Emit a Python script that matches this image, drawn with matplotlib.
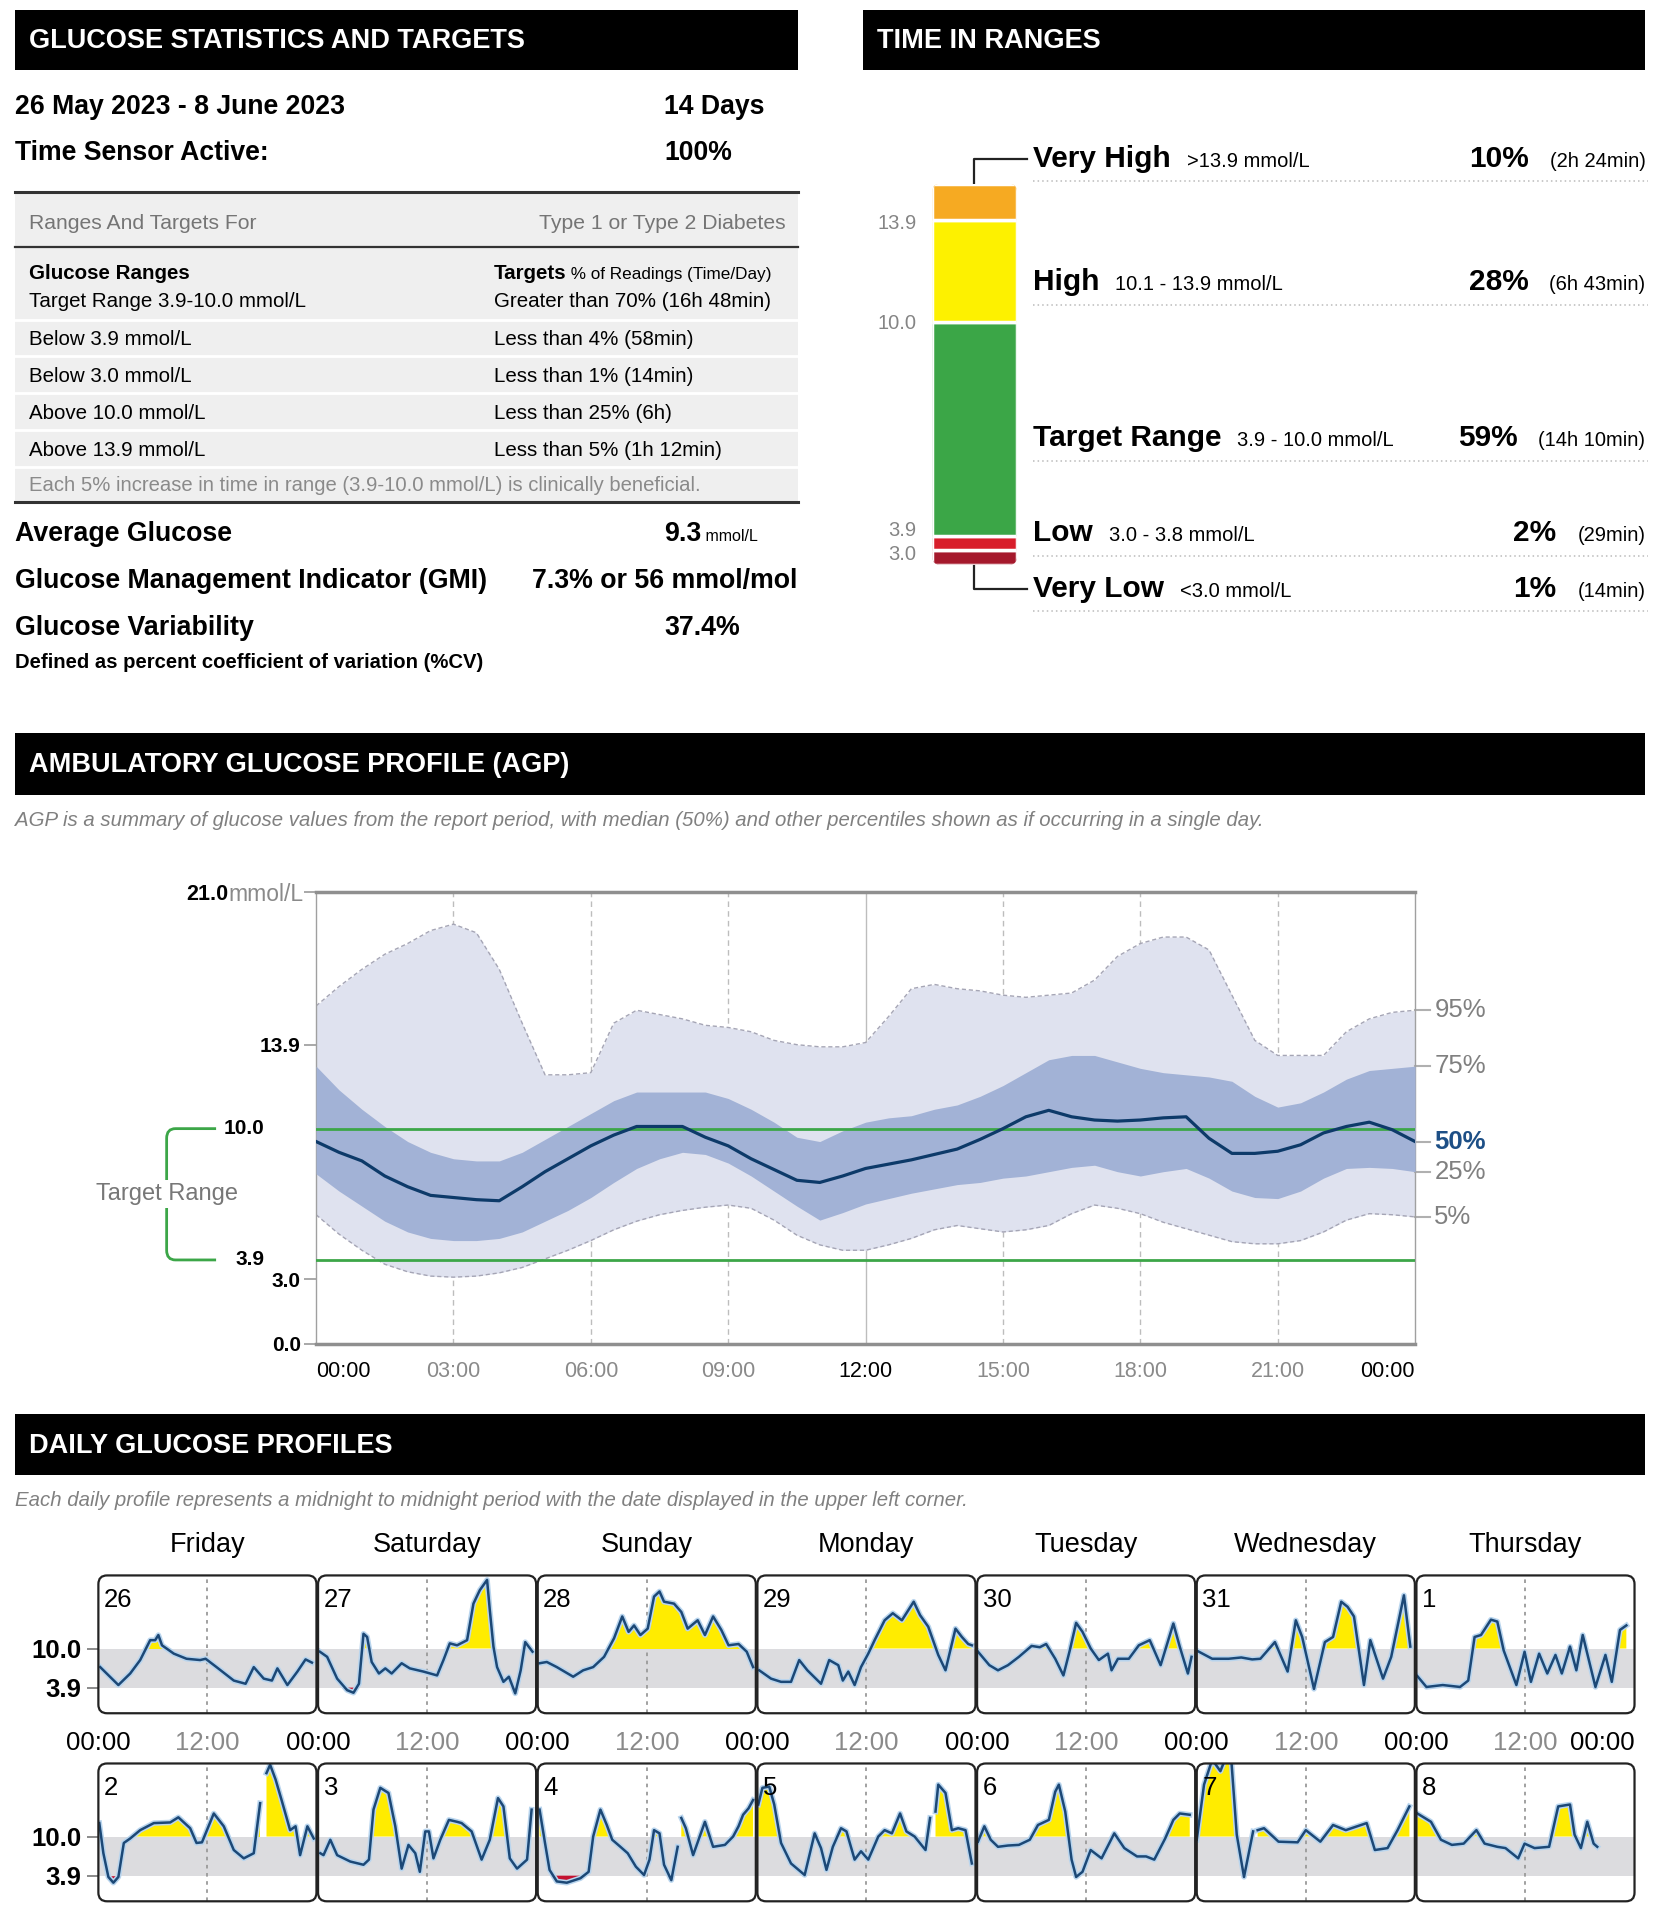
import numpy as np
import matplotlib
matplotlib.use('Agg')
import matplotlib.pyplot as plt
import matplotlib.patheffects as pe
from matplotlib.patches import Rectangle, FancyBboxPatch, PathPatch
from matplotlib.path import Path

plt.rcParams['font.family'] = ['Liberation Sans', 'DejaVu Sans']

# ---------------- data ----------------
tir_names = ['Very High', 'High', 'Target Range', 'Low', 'Very Low']
tir_ranges = ['>13.9 mmol/L', '10.1 - 13.9 mmol/L', '3.9 - 10.0 mmol/L', '3.0 - 3.8 mmol/L', '<3.0 mmol/L']
tir_pct = [10, 28, 59, 2, 1]
tir_time = ['(2h 24min)', '(6h 43min)', '(14h 10min)', '(29min)', '(14min)']
tir_colors = ['#f6aa22', '#fdf100', '#3ba647', '#d81d2a', '#a5192c']
tir_bounds = ['13.9', '10.0', '3.9', '3.0']

target_rows = [('Below 3.9 mmol/L', 'Less than 4% (58min)'),
               ('Below 3.0 mmol/L', 'Less than 1% (14min)'),
               ('Above 10.0 mmol/L', 'Less than 25% (6h)'),
               ('Above 13.9 mmol/L', 'Less than 5% (1h 12min)')]

agp_hours = [i / 2 for i in range(49)]
p95 = [15.7, 16.6, 17.4, 18.1, 18.6, 19.2, 19.5, 19.1, 17.4, 14.9, 12.5, 12.5, 12.6, 14.9, 15.5, 15.3, 15.1,
       14.8, 14.7, 14.5, 14.1, 13.9, 13.8, 13.8, 14.0, 15.2, 16.5, 16.7, 16.5, 16.4, 16.2, 16.1, 16.2, 16.3,
       16.9, 18.0, 18.6, 18.9, 18.9, 18.3, 16.2, 14.1, 13.4, 13.4, 13.4, 14.5, 15.1, 15.4, 15.5]
p75 = [12.9, 11.8, 10.9, 10.1, 9.4, 8.9, 8.6, 8.5, 8.5, 8.9, 9.5, 10.1, 10.7, 11.3, 11.7, 11.7, 11.7, 11.7,
       11.4, 10.9, 10.3, 9.6, 9.4, 9.9, 10.3, 10.5, 10.6, 10.9, 11.1, 11.5, 12.0, 12.6, 13.2, 13.4, 13.4,
       13.1, 12.8, 12.6, 12.5, 12.4, 12.2, 11.5, 11.0, 11.2, 11.7, 12.3, 12.7, 12.8, 12.9]
p50 = [9.4, 8.9, 8.5, 7.8, 7.3, 6.9, 6.8, 6.7, 6.65, 7.3, 8.0, 8.6, 9.2, 9.7, 10.1, 10.1, 10.1, 9.6, 9.2,
       8.6, 8.1, 7.6, 7.5, 7.8, 8.15, 8.35, 8.55, 8.8, 9.05, 9.5, 10.0, 10.55, 10.85, 10.55, 10.4, 10.35,
       10.4, 10.5, 10.55, 9.55, 8.85, 8.85, 8.95, 9.25, 9.8, 10.1, 10.3, 9.95, 9.4]
p25 = [7.9, 7.1, 6.4, 5.7, 5.2, 4.9, 4.8, 4.8, 4.9, 5.2, 5.7, 6.2, 6.8, 7.5, 8.15, 8.6, 8.9, 8.8, 8.4, 7.8,
       7.1, 6.4, 5.75, 6.1, 6.5, 6.75, 7.0, 7.2, 7.4, 7.5, 7.7, 7.8, 8.0, 8.2, 8.3, 8.0, 7.8, 8.0, 8.15,
       7.7, 7.1, 6.8, 6.75, 7.1, 7.7, 8.15, 8.2, 8.15, 8.0]
p05 = [6.0, 5.1, 4.35, 3.7, 3.35, 3.15, 3.1, 3.15, 3.3, 3.55, 3.95, 4.35, 4.8, 5.3, 5.7, 6.0, 6.2, 6.35,
       6.45, 6.3, 5.75, 5.05, 4.6, 4.35, 4.35, 4.6, 4.9, 5.3, 5.5, 5.35, 5.2, 5.3, 5.5, 6.05, 6.45, 6.3,
       6.05, 5.65, 5.35, 5.05, 4.75, 4.65, 4.65, 4.8, 5.2, 5.75, 6.05, 6.0, 5.9]
target_low, target_high = 3.9, 10.0

weekdays = ['Friday', 'Saturday', 'Sunday', 'Monday', 'Tuesday', 'Wednesday', 'Thursday']
dates_row1 = ['26', '27', '28', '29', '30', '31', '1']
dates_row2 = ['2', '3', '4', '5', '6', '7', '8']

# daily traces: hour of day, glucose mmol/L (None = sensor gap)
d26_h = [0.2, 2.2, 3.5, 4.6, 5.7, 6.25, 6.6, 7.0, 8.3, 9.7, 11.2, 11.8, 13.0, 14.9, 16.2, 17.1, 18.2, 19.1, 19.7, 20.8, 21.9, 22.8, 23.5]
d26_g = [7.1, 4.3, 6.1, 8.2, 11.3, 11.3, 12.1, 10.5, 9.2, 8.4, 8.2, 8.4, 7.1, 5.0, 4.5, 7.1, 5.3, 5.0, 6.9, 4.3, 6.4, 8.3, 7.8]
d27_h = [0.2, 1.0, 2.1, 3.2, 3.9, 4.5, 5.0, 5.4, 5.9, 6.7, 7.4, 8.1, 9.2, 10.1, 11.6, 13.1, 13.8, 14.5, 15.3, 16.4, 17.1, 17.8, 18.6, 18.9, 19.3, 19.7, 20.4, 21.0, 21.7, 22.3, 22.8, 23.6]
d27_g = [9.5, 8.7, 5.3, 3.5, 3.1, 4.5, 12.3, 11.8, 7.9, 6.1, 6.9, 6.1, 7.7, 6.9, 6.4, 5.8, 8.2, 10.8, 10.5, 11.3, 17.0, 19.1, 20.7, 16.0, 10.3, 7.1, 4.8, 5.6, 3.0, 6.6, 11.0, 9.5]
d28_h = [0.2, 1.0, 2.1, 3.9, 5.0, 6.1, 7.3, 8.4, 9.3, 10.0, 10.6, 11.3, 12.1, 12.8, 13.4, 13.9, 15.0, 15.8, 16.5, 17.6, 18.4, 19.3, 20.2, 21.0, 22.1, 23.0, 23.7]
d28_g = [7.7, 7.9, 7.1, 5.6, 6.6, 7.1, 8.7, 11.6, 15.0, 12.6, 13.6, 12.1, 13.1, 18.1, 18.9, 17.3, 17.0, 15.7, 13.1, 14.4, 12.1, 15.0, 12.9, 10.5, 10.7, 9.5, 7.1]
d29_h = [0.2, 1.5, 2.6, 3.7, 4.6, 5.5, 7.0, 7.9, 8.9, 9.4, 10.0, 10.7, 11.4, 12.2, 12.9, 14.0, 14.9, 15.9, 17.2, 17.9, 18.8, 19.9, 20.7, 21.8, 22.5, 23.2, 23.6]
d29_g = [6.6, 5.3, 4.8, 4.8, 8.2, 6.6, 4.5, 8.2, 7.4, 5.0, 6.4, 4.3, 7.1, 9.2, 11.3, 14.4, 15.5, 14.4, 17.3, 15.2, 13.4, 9.0, 6.6, 13.1, 11.8, 10.7, 10.5]
d30_h = [0.1, 1.35, 2.3, 3.4, 4.6, 6.0, 6.9, 7.6, 8.6, 9.5, 10.2, 10.9, 11.6, 12.5, 13.4, 14.4, 14.8, 15.5, 16.7, 17.8, 19.0, 20.2, 21.6, 22.3, 23.2, 23.6]
d30_g = [9.5, 7.4, 6.6, 7.4, 8.7, 10.4, 10.2, 10.7, 8.4, 5.8, 9.7, 14.0, 12.6, 10.0, 8.2, 9.2, 6.6, 8.4, 8.4, 10.5, 11.3, 7.4, 13.9, 10.3, 6.1, 8.7]
d31_h = [0.1, 1.7, 3.5, 4.9, 6.1, 7.0, 8.6, 10.0, 10.9, 11.6, 12.9, 14.1, 15.0, 15.9, 16.6, 17.3, 18.4, 19.1, 20.5, 21.4, 22.8, 23.5]
d31_g = [9.6, 8.4, 8.4, 8.6, 8.3, 8.4, 11.0, 6.4, 14.4, 11.8, 3.7, 11.0, 11.8, 17.3, 16.5, 15.0, 4.3, 11.3, 5.3, 8.7, 18.3, 10.3]
d01_h = [0.1, 1.1, 2.9, 4.8, 5.7, 6.4, 7.1, 8.2, 8.9, 9.6, 11.0, 11.9, 12.6, 13.5, 14.4, 15.3, 16.0, 16.9, 17.6, 18.3, 19.7, 20.8, 21.5, 22.4, 23.1]
d01_g = [5.7, 4.0, 4.3, 4.0, 5.0, 11.8, 12.1, 14.5, 14.2, 9.7, 4.3, 9.5, 4.8, 9.2, 6.1, 9.0, 6.1, 10.3, 6.6, 12.1, 4.0, 9.0, 4.8, 12.9, 13.6]
d02_h = [0.1, 0.55, 1.1, 1.65, 2.2, 2.8, 3.5, 4.6, 6.1, 7.9, 8.8, 10.1, 10.8, 11.4, 12.7, 13.8, 14.9, 16.0, 17.1, 17.8, 18.1, 18.5, 18.9, 19.5, 20.2, 21.1, 21.7, 22.2, 23.0, 23.7]
d02_g = [12.1, 7.4, 3.7, 2.8, 3.7, 9.0, 9.7, 11.0, 12.1, 12.2, 13.0, 11.3, 9.0, 9.1, 13.6, 11.6, 7.9, 6.6, 7.4, 15.2, None, 19.9, 21.2, 18.9, 15.5, 11.0, 11.6, 7.1, 11.6, 9.7]
d03_h = [0.25, 0.6, 1.35, 2.1, 3.55, 5.0, 5.6, 6.1, 6.85, 7.75, 8.5, 9.2, 9.95, 10.7, 11.2, 11.8, 12.2, 12.7, 13.45, 14.4, 15.3, 15.8, 16.9, 18.0, 18.9, 19.8, 20.4, 21.1, 21.9, 23.0, 23.5]
d03_g = [7.4, 7.1, 9.5, 7.1, 6.1, 5.6, 6.4, 14.2, 17.6, 16.8, 11.6, 5.0, 8.7, 7.4, 4.5, 10.8, 10.8, 6.6, 9.5, 12.6, 12.3, 12.1, 10.8, 6.4, 9.5, 16.0, 14.7, 6.6, 5.0, 6.4, 14.2]
d04_h = [0.2, 0.8, 1.3, 2.1, 3.2, 4.7, 5.6, 6.1, 6.9, 7.6, 8.2, 9.1, 9.9, 10.8, 11.7, 12.3, 12.8, 13.4, 13.9, 14.7, 15.4, 15.6, 15.8, 16.3, 17.1, 18.4, 19.3, 20.6, 21.5, 22.1, 22.6, 23.2, 23.7]
d04_g = [14.2, 9.0, 4.8, 3.0, 2.8, 3.5, 4.5, 10.0, 14.2, 11.8, 9.5, 8.4, 7.4, 5.3, 4.0, 6.4, 11.0, 10.5, 5.6, 3.2, 8.4, None, 12.9, 11.3, 7.1, 12.3, 8.4, 8.7, 10.0, 11.6, 13.4, 14.4, 15.7]
d05_h = [0.1, 0.55, 1.3, 1.85, 2.6, 3.7, 5.2, 6.3, 7.0, 7.6, 8.3, 9.2, 9.8, 10.7, 11.4, 12.2, 13.3, 14.0, 14.8, 15.7, 16.4, 17.3, 18.5, 19.0, 19.3, 19.6, 19.9, 20.7, 21.4, 22.1, 22.9, 23.6]
d05_g = [15.0, 17.6, 17.8, 15.0, 9.0, 5.8, 4.0, 10.5, 8.2, 4.8, 8.4, 11.3, 10.8, 6.4, 7.7, 6.4, 10.0, 11.0, 10.5, 13.6, 10.8, 10.0, 7.9, 12.9, None, 13.9, 18.1, 16.8, 11.0, 11.3, 11.0, 5.8]
d06_h = [0.1, 0.8, 1.5, 2.3, 3.4, 4.6, 5.8, 6.7, 7.9, 8.6, 9.0, 9.7, 10.4, 10.9, 11.6, 12.5, 13.7, 15.1, 16.2, 17.6, 18.6, 19.5, 20.7, 21.6, 22.3, 23.4]
d06_g = [9.2, 11.6, 9.5, 8.4, 8.6, 8.7, 9.5, 11.8, 12.6, 17.0, 18.1, 13.9, 6.4, 3.7, 4.5, 7.9, 6.6, 10.5, 8.2, 6.9, 6.9, 6.4, 9.7, 12.6, 13.6, 13.4]
d07_h = [0.0, 0.8, 1.7, 2.6, 3.1, 3.8, 4.4, 5.2, 6.2, 6.4, 6.7, 7.4, 9.0, 11.1, 12.0, 13.6, 15.0, 16.4, 18.7, 19.6, 21.0, 22.1, 23.4]
d07_g = [9.5, 18.1, 22.0, 20.2, 22.0, 22.0, 10.3, 3.7, 10.8, None, 11.0, 11.3, 9.2, 9.1, 11.0, 9.2, 11.8, 11.0, 12.1, 7.9, 8.2, 11.0, 14.7]
d08_h = [0.1, 1.6, 2.7, 3.9, 5.2, 6.6, 7.5, 8.9, 9.8, 11.2, 11.9, 13.0, 14.6, 15.6, 16.9, 17.4, 18.1, 18.8, 19.5, 19.9]
d08_g = [13.6, 12.3, 9.5, 8.7, 8.9, 11.0, 8.9, 8.4, 8.2, 6.6, 8.9, 8.2, 8.4, 14.7, 15.0, 10.3, 8.2, 12.3, 8.9, 8.4]

row1_traces = [(d26_h, d26_g), (d27_h, d27_g), (d28_h, d28_g), (d29_h, d29_g),
               (d30_h, d30_g), (d31_h, d31_g), (d01_h, d01_g)]
row2_traces = [(d02_h, d02_g), (d03_h, d03_g), (d04_h, d04_g), (d05_h, d05_g),
               (d06_h, d06_g), (d07_h, d07_g), (d08_h, d08_g)]

# ---------------- page ----------------
W, H = 1350.0, 1564.0
fig = plt.figure(figsize=(16.54, 19.16), dpi=100)
bg = fig.add_axes([0, 0, 1, 1])
bg.set_xlim(0, W)
bg.set_ylim(H, 0)
bg.axis('off')

GRAY = '#757575'
TXT = 14.8   # table text size


def box(x0, y0, x1, y1):
    return [x0 / W, 1 - y1 / H, (x1 - x0) / W, (y1 - y0) / H]


def header(x0, x1, y0, y1, title):
    bg.add_patch(Rectangle((x0, y0), x1 - x0, y1 - y0, color='black', lw=0))
    bg.text(x0 + 12, (y0 + y1) / 2 + 1, title, color='white', fontsize=19.5, fontweight='bold', va='center')


def tail(t, s, size, y, color='black', dx=0, weight='normal'):
    # small text continuing right after another text, on the same baseline
    return bg.annotate(s, xy=(1, y), xycoords=(t, 'data'), xytext=(dx, 0), textcoords='offset pixels',
                       fontsize=size, color=color, va='baseline', fontweight=weight)


# ---- glucose statistics ----
header(12, 651, 8, 57, 'GLUCOSE STATISTICS AND TARGETS')
bg.text(12, 93, '26 May 2023 - 8 June 2023', fontsize=19.2, fontweight='bold', va='baseline')
bg.text(542, 93, '14 Days', fontsize=19.2, fontweight='bold', va='baseline')
bg.text(12, 131, 'Time Sensor Active:', fontsize=19.2, fontweight='bold', va='baseline')
bg.text(542, 131, '100%', fontsize=19.2, fontweight='bold', va='baseline')

bg.add_patch(Rectangle((12, 157), 639, 253, color='#efefef', lw=0))
for yy, lw in [(157, 2.2), (202, 1.6), (410, 2.2)]:
    bg.plot([12, 651], [yy, yy], color='#333333', lw=lw)
for yy in [261, 291, 321, 351, 381]:
    bg.plot([12, 651], [yy, yy], color='white', lw=2)
bg.text(24, 187, 'Ranges And Targets For', fontsize=15.2, color=GRAY, va='baseline')
bg.text(641, 187, 'Type 1 or Type 2 Diabetes', fontsize=15.2, color=GRAY, va='baseline', ha='right')
bg.text(24, 228, 'Glucose Ranges', fontsize=TXT, fontweight='bold', va='baseline')
t = bg.text(403, 228, 'Targets', fontsize=TXT, fontweight='bold', va='baseline')
tail(t, ' % of Readings (Time/Day)', 12.3, 228)
bg.text(24, 251, 'Target Range 3.9-10.0 mmol/L', fontsize=TXT, va='baseline')
bg.text(403, 251, 'Greater than 70% (16h 48min)', fontsize=TXT, va='baseline')
for i, (left, right) in enumerate(target_rows):
    yb = 282 + 30 * i
    bg.text(24, yb, left, fontsize=TXT, va='baseline')
    bg.text(403, yb, right, fontsize=TXT, va='baseline')
bg.text(24, 401, 'Each 5% increase in time in range (3.9-10.0 mmol/L) is clinically beneficial.',
        fontsize=14.6, color='#8a8a8a', va='baseline')

bg.text(12, 442, 'Average Glucose', fontsize=19.3, fontweight='bold', va='baseline')
t = bg.text(542, 442, '9.3', fontsize=19.3, fontweight='bold', va='baseline')
tail(t, ' mmol/L', 11.5, 442)
bg.text(12, 480, 'Glucose Management Indicator (GMI)', fontsize=19.3, fontweight='bold', va='baseline')
bg.text(651, 480, '7.3% or 56 mmol/mol', fontsize=19.3, fontweight='bold', va='baseline', ha='right')
bg.text(12, 518, 'Glucose Variability', fontsize=19.3, fontweight='bold', va='baseline')
bg.text(542, 518, '37.4%', fontsize=19.3, fontweight='bold', va='baseline')
bg.text(12, 545, 'Defined as percent coefficient of variation (%CV)', fontsize=14.6, fontweight='bold',
        va='baseline')

# ---- time in ranges ----
header(704, 1343, 8, 57, 'TIME IN RANGES')
seg = [max(p, 4) for p in tir_pct][::-1]      # drawn bottom (very low) to top (very high)
seg_colors = tir_colors[::-1]
tax = fig.add_axes(box(761, 150, 830, 461))
bottoms = np.concatenate([[0], np.cumsum(seg)[:-1]])
bars = tax.bar(0, seg, bottom=bottoms, width=1, color=seg_colors, edgecolor='white', linewidth=2.5)
tax.set_xlim(-0.5, 0.5)
tax.set_ylim(0, sum(seg))
tax.axis('off')
# rounded ends of the bar
aspect = (sum(seg) / 311.0) * 69.0
clip = FancyBboxPatch((-0.5, 0), 1, sum(seg), boxstyle='round,pad=0,rounding_size=0.09',
                      mutation_aspect=aspect, transform=tax.transData, fc='none', ec='none')
tax.add_patch(clip)
for b in bars:
    b.set_clip_path(clip)
bounds = np.cumsum(seg)[:-1][::-1]
nudges = [-3, -2, 5, -4]
for b, lab, nd in zip(bounds, tir_bounds, nudges):
    tax.annotate(lab, xy=(0, b), xycoords=('axes fraction', 'data'), xytext=(-16, nd),
                 textcoords='offset pixels', ha='right', va='center', fontsize=14.5, color='#858585')

# connectors
bg.plot([795, 795, 838], [150, 130, 130], color='#222222', lw=1.6)
bg.plot([795, 795, 838], [461, 481, 481], color='#222222', lw=1.6)
row_y = [128, 229, 356, 434, 479]
for name, rng, pct, tm, yc in zip(tir_names, tir_ranges, tir_pct, tir_time, row_y):
    yb = yc + 8
    t = bg.text(843, yb, name, fontsize=21.5, fontweight='bold', va='baseline')
    tail(t, rng, 14.5, yb, dx=16)
    tt = bg.text(1343, yb, tm, fontsize=14.5, va='baseline', ha='right')
    bg.annotate(f'{pct}%', xy=(0, yb), xycoords=(tt, 'data'), xytext=(-21, 0), textcoords='offset pixels',
                ha='right', va='baseline', fontsize=21.5, fontweight='bold')
    bg.plot([843, 1345], [yc + 20, yc + 20], color='#bbbbbb', lw=1.1, ls=(0, (1, 2)))

# ---- AGP ----
header(12, 1343, 598, 649, 'AMBULATORY GLUCOSE PROFILE (AGP)')
bg.text(12, 674, 'AGP is a summary of glucose values from the report period, with median (50%) and other '
        'percentiles shown as if occurring in a single day.', fontsize=14.7, color='#808080',
        style='italic', va='baseline')

ax = fig.add_axes(box(258, 728, 1155, 1097))
ax.set_xlim(0, 24)
ax.set_ylim(0, 21)
for hh in [3, 6, 9, 15, 18, 21]:
    ax.axvline(hh, color='#bdbdbd', lw=1, ls=(0, (4, 3)), zorder=0)
ax.axvline(12, color='#bdbdbd', lw=1, zorder=0)
ax.fill_between(agp_hours, p05, p95, color='#dfe2ef', lw=0, zorder=1)
ax.plot(agp_hours, p95, color='#a5a5b5', lw=1, ls=(0, (3, 2)), zorder=2)
ax.plot(agp_hours, p05, color='#a5a5b5', lw=1, ls=(0, (3, 2)), zorder=2)
ax.fill_between(agp_hours, p25, p75, color='#a2b2d6', lw=0, zorder=3)
ax.axhline(target_high, color='#3ca648', lw=2, zorder=4)
ax.axhline(target_low, color='#3ca648', lw=2, zorder=4)
ax.plot(agp_hours, p50, color='#0d3a69', lw=2.3, zorder=5)
for s in ['top', 'bottom']:
    ax.spines[s].set_color('#8f8f8f')
    ax.spines[s].set_linewidth(2.5)
for s in ['left', 'right']:
    ax.spines[s].set_color('#a0a0a0')
    ax.spines[s].set_linewidth(1)

ax.set_yticks([0, 3.0, 13.9, 21.0])
ax.set_yticklabels(['0.0', '3.0', '13.9', ''], fontsize=15, fontweight='bold')
ax.tick_params(axis='y', length=9, color='#9a9a9a', width=1.2, pad=2)
mm = ax.annotate('mmol/L', xy=(0, 21), xycoords=('axes fraction', 'data'), xytext=(-13, 0),
                 textcoords='offset pixels', ha='right', va='center_baseline', fontsize=16.5, color='#8a8a8a')
ax.annotate('21.0', xy=(0, 21), xycoords=(mm, 'data'), ha='right', va='center_baseline',
            fontsize=15.5, fontweight='bold')
for v, lab in [(target_high, '10.0'), (target_low, '3.9')]:
    ax.text(-0.047, v, lab, transform=ax.get_yaxis_transform(), ha='right', va='center',
            fontsize=15, fontweight='bold')

# target range bracket
xl, xe, rx, ry = -0.136, -0.091, 0.008, 0.45
verts = [(xe, target_high), (xl + rx, target_high), (xl, target_high), (xl, target_high - ry),
         (xl, target_low + ry), (xl, target_low), (xl + rx, target_low), (xe, target_low)]
codes = [Path.MOVETO, Path.LINETO, Path.CURVE3, Path.CURVE3, Path.LINETO, Path.CURVE3, Path.CURVE3, Path.LINETO]
ax.add_patch(PathPatch(Path(verts, codes), transform=ax.get_yaxis_transform(), fill=False,
                       edgecolor='#3ca648', lw=2, clip_on=False))
ax.text(xl, (target_low + target_high) / 2, 'Target Range', transform=ax.get_yaxis_transform(),
        ha='center', va='center', fontsize=17, color='#777777',
        bbox=dict(facecolor='white', edgecolor='none', pad=2))

xt = list(range(0, 25, 3))
ax.set_xticks(xt)
ax.set_xticklabels(['00:00', '03:00', '06:00', '09:00', '12:00', '15:00', '18:00', '21:00', '00:00'],
                   fontsize=15.5)
ax.tick_params(axis='x', length=0, pad=12)
for lab, hh in zip(ax.get_xticklabels(), xt):
    lab.set_color('black' if hh % 12 == 0 else '#8a8a8a')
ax.get_xticklabels()[0].set_ha('left')
ax.get_xticklabels()[-1].set_ha('right')

for lab, series, col, wt in [('95%', p95, '#808080', 'normal'), ('75%', p75, '#808080', 'normal'),
                             ('50%', p50, '#1d4f86', 'bold'), ('25%', p25, '#808080', 'normal'),
                             ('5%', p05, '#808080', 'normal')]:
    ax.plot([24, 24.33], [series[-1], series[-1]], color='#b0b0b0', lw=1.5, clip_on=False)
    ax.text(24.42, series[-1], lab, fontsize=18.5, color=col, fontweight=wt, va='center')

# ---- daily profiles ----
header(12, 1343, 1154, 1204, 'DAILY GLUCOSE PROFILES')
bg.text(12, 1229, 'Each daily profile represents a midnight to midnight period with the date displayed in '
        'the upper left corner.', fontsize=14.7, color='#808080', style='italic', va='baseline')

p_left, p_w, p_step, p_h = 80.3, 178.0, 179.3, 112.5
row_tops = [1286, 1439.5]
for c, wd in enumerate(weekdays):
    bg.text(p_left + c * p_step + p_w / 2, 1261, wd, fontsize=19.5, ha='center', va='center')

for r, (traces, dates) in enumerate([(row1_traces, dates_row1), (row2_traces, dates_row2)]):
    for c, ((hrs, glu), lab) in enumerate(zip(traces, dates)):
        x0 = p_left + c * p_step
        y0 = row_tops[r]
        pax = fig.add_axes(box(x0, y0, x0 + p_w, y0 + p_h))
        pax.set_xlim(0, 24)
        pax.set_ylim(-0.1, 21.4)
        pax.axhspan(target_low, target_high, color='#dcdcdf', lw=0, zorder=0)
        pax.axvline(12, color='#9a9a9a', lw=1.3, ls=(0, (2, 2.5)), zorder=1)
        hv = np.array(hrs, dtype=float)
        gv = np.array(glu, dtype=float)
        pax.fill_between(hv, target_high, gv, where=gv > target_high, interpolate=True,
                         color='#ffec00', lw=0, zorder=2)
        pax.fill_between(hv, target_low, gv, where=gv < target_low, interpolate=True,
                         color='#c41230', lw=0, zorder=2)
        pax.plot(hv, gv, color='#1c4876', lw=1.8, zorder=3,
                 path_effects=[pe.Stroke(linewidth=4, foreground='#b9d5ee'), pe.Normal()])
        for s in pax.spines.values():
            s.set_visible(False)
        pax.add_patch(FancyBboxPatch((0, 0), 1, 1, boxstyle='round,pad=0,rounding_size=0.04',
                                     mutation_aspect=p_w / p_h, transform=pax.transAxes, fill=False,
                                     ec='#222222', lw=1.6, clip_on=False, zorder=6))
        pax.text(0.025, 0.82, lab, transform=pax.transAxes, fontsize=18.5, va='center', zorder=7)
        if c == 0:
            pax.set_yticks([target_low, target_high])
            pax.set_yticklabels(['3.9', '10.0'], fontsize=18.5, fontweight='bold')
            pax.tick_params(axis='y', length=8, color='#777777', width=1.2, pad=4)
        else:
            pax.set_yticks([])
        if r == 0:
            ticks = [0, 12, 24] if c == len(weekdays) - 1 else [0, 12]
            pax.set_xticks(ticks)
            pax.set_xticklabels(['00:00', '12:00', '00:00'][:len(ticks)], fontsize=18.5)
            pax.tick_params(axis='x', length=0, pad=13)
            for tl, tk in zip(pax.get_xticklabels(), ticks):
                tl.set_color('#8a8a8a' if tk == 12 else 'black')
            if c == len(weekdays) - 1:
                pax.get_xticklabels()[-1].set_ha('right')
        else:
            pax.set_xticks([])

fig.savefig('out.png', dpi=100)
